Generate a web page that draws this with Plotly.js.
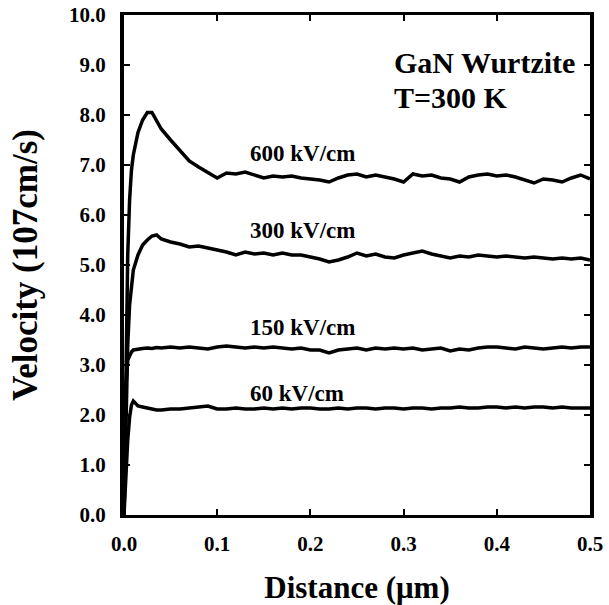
<!DOCTYPE html>
<html>
<head>
<meta charset="utf-8">
<script src="https://cdn.plot.ly/plotly-3.0.1.min.js"></script>
<style>html,body{margin:0;padding:0;background:#fff;}#chart{width:609px;height:605px;}</style>
</head>
<body>
<div id="chart"></div>
<script>
// Distance (µm)
const distance = [0, 0.002, 0.004, 0.006, 0.008, 0.01, 0.015, 0.02, 0.025, 0.03, 0.035, 0.04,
  0.05, 0.06, 0.07, 0.08, 0.09, 0.10, 0.11, 0.12, 0.13, 0.14, 0.15, 0.16, 0.17, 0.18, 0.19, 0.20,
  0.21, 0.22, 0.23, 0.24, 0.25, 0.26, 0.27, 0.28, 0.29, 0.30, 0.31, 0.32, 0.33, 0.34, 0.35, 0.36,
  0.37, 0.38, 0.39, 0.40, 0.41, 0.42, 0.43, 0.44, 0.45, 0.46, 0.47, 0.48, 0.49, 0.50];

// Velocity (10^7 cm/s)
const v600 = [0, 3.0, 5.2, 6.3, 6.9, 7.2, 7.65, 7.9, 8.05, 8.05, 7.9, 7.72,
  7.5, 7.3, 7.08, 6.96, 6.85, 6.74, 6.84, 6.82, 6.86, 6.8, 6.74, 6.78, 6.76, 6.78, 6.74, 6.72,
  6.7, 6.66, 6.74, 6.8, 6.82, 6.76, 6.8, 6.76, 6.72, 6.66, 6.82, 6.78, 6.8, 6.74, 6.72, 6.66,
  6.76, 6.8, 6.82, 6.78, 6.8, 6.76, 6.7, 6.64, 6.72, 6.7, 6.66, 6.74, 6.8, 6.72];

const v300 = [0, 2.0, 3.4, 4.2, 4.65, 4.9, 5.2, 5.4, 5.5, 5.58, 5.6, 5.52,
  5.46, 5.42, 5.36, 5.38, 5.34, 5.3, 5.26, 5.2, 5.26, 5.22, 5.24, 5.2, 5.24, 5.2, 5.2, 5.16,
  5.12, 5.06, 5.1, 5.16, 5.24, 5.18, 5.22, 5.16, 5.14, 5.2, 5.24, 5.28, 5.22, 5.18, 5.14, 5.18,
  5.16, 5.2, 5.18, 5.16, 5.18, 5.16, 5.14, 5.16, 5.14, 5.12, 5.14, 5.12, 5.14, 5.1];

const v150 = [0, 2.6, 3.1, 3.2, 3.26, 3.3, 3.32, 3.33, 3.34, 3.33, 3.35, 3.34,
  3.36, 3.34, 3.36, 3.34, 3.32, 3.36, 3.38, 3.36, 3.34, 3.36, 3.34, 3.36, 3.34, 3.32, 3.34, 3.3,
  3.3, 3.24, 3.3, 3.32, 3.34, 3.3, 3.34, 3.32, 3.34, 3.32, 3.34, 3.3, 3.32, 3.34, 3.28, 3.32,
  3.3, 3.34, 3.36, 3.36, 3.34, 3.32, 3.36, 3.34, 3.32, 3.34, 3.36, 3.34, 3.36, 3.36];

const v60 = [0, 0.8, 1.5, 1.95, 2.2, 2.28, 2.18, 2.16, 2.14, 2.12, 2.1, 2.1,
  2.12, 2.12, 2.14, 2.16, 2.18, 2.12, 2.12, 2.14, 2.12, 2.12, 2.14, 2.12, 2.14, 2.12, 2.14, 2.14,
  2.12, 2.12, 2.14, 2.12, 2.14, 2.14, 2.12, 2.14, 2.14, 2.12, 2.14, 2.14, 2.12, 2.14, 2.14, 2.16,
  2.14, 2.14, 2.16, 2.16, 2.14, 2.16, 2.14, 2.16, 2.16, 2.14, 2.16, 2.14, 2.14, 2.14];

const seriesNames = ["600 kV/cm", "300 kV/cm", "150 kV/cm", "60 kV/cm"];
const seriesValues = [v600, v300, v150, v60];
const labelX = [0.133, 0.133, 0.133, 0.133];
const labelY = [7.24, 5.7, 3.76, 2.44];
const xTicks = [0, 0.1, 0.2, 0.3, 0.4, 0.5];
const yTicks = [0, 1, 2, 3, 4, 5, 6, 7, 8, 9, 10];

const FONT = "'Liberation Serif', 'Times New Roman', serif";

const traces = seriesValues.map((v, i) => ({
  x: distance, y: v, type: 'scatter', mode: 'lines', name: seriesNames[i],
  line: {color: '#000', width: 3.5, shape: 'linear'}, hoverinfo: 'skip'
}));

const annotations = seriesNames.map((n, i) => ({
  x: labelX[i], y: labelY[i], xref: 'x', yref: 'y', text: '<b>' + n + '</b>',
  showarrow: false, xanchor: 'left', yanchor: 'middle',
  font: {family: FONT, size: 23, color: '#000'}
}));
annotations.push({
  x: 0.2876, y: 9.06, xref: 'x', yref: 'y', text: '<b>GaN Wurtzite</b>',
  showarrow: false, xanchor: 'left', yanchor: 'middle',
  font: {family: FONT, size: 30, color: '#000'}
});
annotations.push({
  x: 0.2876, y: 8.36, xref: 'x', yref: 'y', text: '<b>T=300 K</b>',
  showarrow: false, xanchor: 'left', yanchor: 'middle',
  font: {family: FONT, size: 30, color: '#000'}
});

const layout = {
  width: 609, height: 605,
  margin: {l: 124, r: 19, t: 15, b: 90},
  paper_bgcolor: '#fff', plot_bgcolor: '#fff',
  showlegend: false,
  font: {family: FONT, color: '#000'},
  xaxis: {
    range: [0, 0.5], tickvals: xTicks, tickformat: '.1f',
    ticks: 'inside', ticklen: 6, tickwidth: 2, tickcolor: '#000',
    showline: true, linewidth: 3, linecolor: '#000', mirror: 'ticks',
    showgrid: false, zeroline: false,
    tickfont: {family: FONT, size: 21, color: '#000', weight: 'bold'},
    ticklabelstandoff: 8,
    title: {text: '<b>Distance (μm)</b>', font: {family: FONT, size: 31, color: '#000'}, standoff: 24},
    automargin: false
  },
  yaxis: {
    range: [0, 10], tickvals: yTicks, tickformat: '.1f',
    ticks: 'inside', ticklen: 6, tickwidth: 2, tickcolor: '#000',
    showline: true, linewidth: 4, linecolor: '#000', mirror: 'ticks',
    showgrid: false, zeroline: false,
    tickfont: {family: FONT, size: 21, color: '#000', weight: 'bold'},
    ticklabelstandoff: 10,
    title: {text: '<b>Velocity (107cm/s)</b>', font: {family: FONT, size: 35, color: '#000'}, standoff: 22},
    automargin: false
  },
  annotations: annotations
};

Plotly.newPlot('chart', traces, layout, {staticPlot: true, displayModeBar: false});
</script>
</body>
</html>
